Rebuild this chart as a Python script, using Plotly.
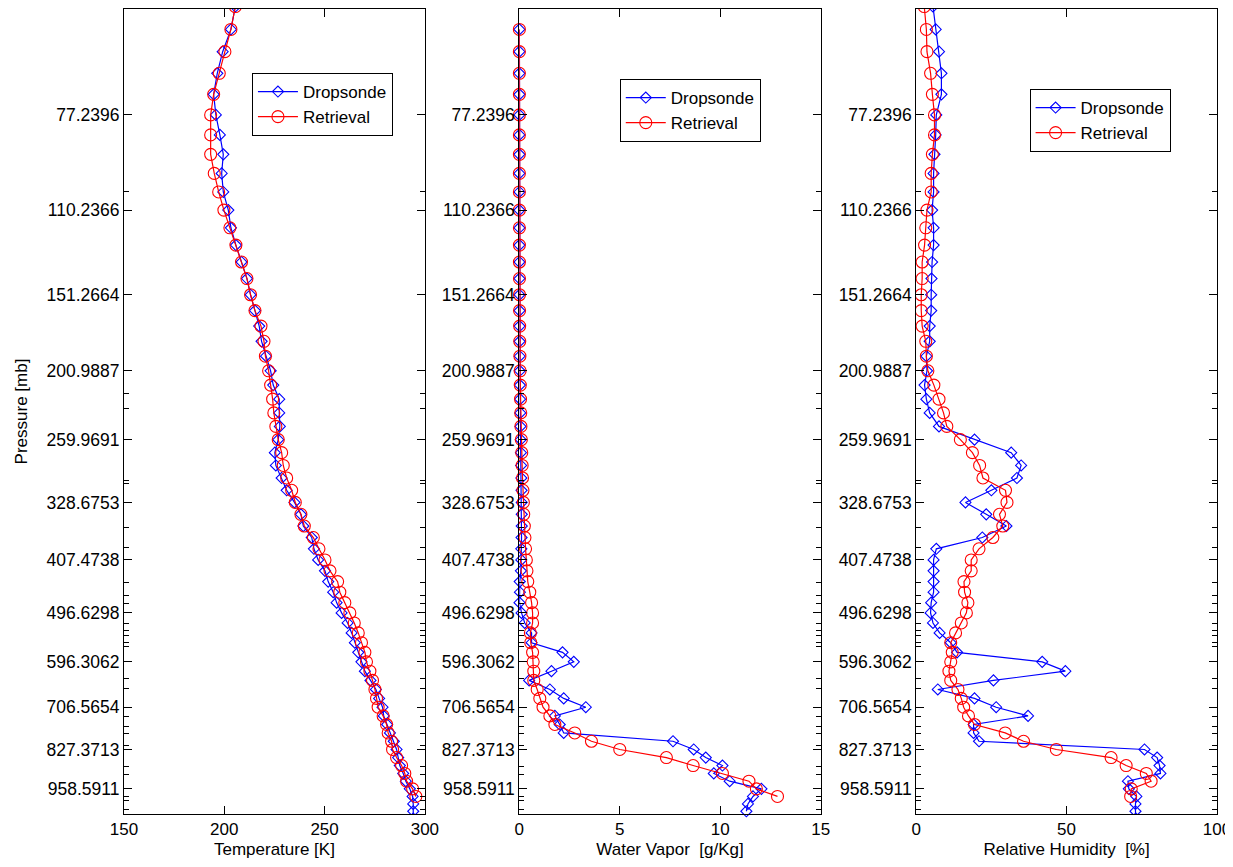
import math
import plotly.graph_objects as go

# AIRS pressure levels (mb), levels 34..98
p_levels = [51.5278, 56.126, 60.9895, 66.1253, 71.5398, 77.2396, 83.231, 89.5204, 96.1138,
            103.017, 110.237, 117.777, 125.646, 133.846, 142.385, 151.266, 160.496, 170.078,
            180.018, 190.32, 200.989, 212.028, 223.441, 235.234, 247.408, 259.969, 272.919,
            286.262, 300.0, 314.137, 328.675, 343.618, 358.966, 374.724, 390.893, 407.474,
            424.47, 441.882, 459.712, 477.961, 496.63, 515.72, 535.232, 555.167, 575.525,
            596.306, 617.511, 639.14, 661.192, 683.667, 706.565, 729.886, 753.628, 777.79,
            802.371, 827.371, 852.788, 878.62, 904.866, 931.524, 958.591, 986.067, 1013.95,
            1042.23, 1070.92]

ytick_vals = [77.2396, 110.2366, 151.2664, 200.9887, 259.9691, 328.6753, 407.4738,
              496.6298, 596.3062, 706.5654, 827.3713, 958.5911]
ytick_text = ["77.2396", "110.2366", "151.2664", "200.9887", "259.9691", "328.6753",
              "407.4738", "496.6298", "596.3062", "706.5654", "827.3713", "958.5911"]
minor_ticks = [103, 219, 231, 303, 306, 361, 389, 444, 465, 480, 517, 530, 540, 554, 564,
               635, 659, 732, 760, 779, 816, 883, 910, 987, 1000, 1037]

# Temperature [K]  (dropsonde: levels 34..98, retrieval: levels 34..95)
t_drop = [205.5, 203.3, 199.2, 196.5, 194.7, 195.8, 197.8, 199.5, 198.7, 199.5, 202.0,
          203.3, 205.8, 208.6, 211.3, 213.1, 215.3, 217.4, 218.6, 220.8, 223.1, 224.4,
          227.4, 227.4, 227.7, 226.9, 225.2, 225.7, 228.6, 231.1, 235.0, 238.2, 239.4,
          243.6, 244.7, 246.8, 250.2, 251.8, 254.3, 256.0, 258.5, 261.5, 263.5, 265.1,
          266.8, 268.4, 270.1, 272.9, 275.6, 277.2, 278.9, 279.5, 281.2, 282.6, 284.5,
          285.9, 286.7, 287.5, 289.2, 290.5, 292.5, 293.9, 294.2, 294.2, 294.2]
t_ret = [205.5, 203.3, 200.3, 197.5, 194.7, 193.2, 193.2, 193.2, 195.0, 197.2, 199.8,
         202.8, 205.8, 208.6, 211.3, 213.1, 215.3, 218.3, 219.8, 220.5, 222.1, 223.1,
         224.1, 224.7, 225.7, 226.9, 228.6, 229.4, 231.1, 233.6, 235.4, 238.2, 239.9,
         244.4, 247.2, 250.2, 252.7, 256.5, 257.6, 260.1, 262.6, 264.8, 266.8, 268.4,
         270.1, 270.9, 272.6, 273.9, 275.1, 275.9, 276.7, 279.2, 280.9, 281.7, 283.4,
         283.9, 285.9, 288.4, 290.0, 290.9, 293.9, 295.5]

# Water vapor [g/Kg]  (dropsonde: levels 35..97, retrieval: levels 35..95)
wv_drop = [0.003, 0.003, 0.003, 0.003, 0.003, 0.003, 0.003, 0.003, 0.003, 0.004, 0.004,
           0.004, 0.005, 0.006, 0.007, 0.009, 0.011, 0.014, 0.018, 0.024, 0.03, 0.04,
           0.05, 0.06, 0.07, 0.08, 0.09, 0.1, 0.11, 0.12, 0.12, 0.12, 0.11, 0.1, 0.1,
           0.08, 0.02, 0.03, 0.01, 0.11, 0.27, 0.61, 0.61, 2.15, 2.71, 1.60, 0.49, 1.52,
           2.21, 3.31, 1.77, 2.01, 2.21, 7.65, 8.68, 9.28, 10.11, 9.68, 10.47, 12.05,
           11.63, 11.38, 11.3]
wv_ret = [0.003, 0.003, 0.003, 0.003, 0.003, 0.003, 0.003, 0.003, 0.003, 0.004, 0.004,
          0.005, 0.006, 0.008, 0.01, 0.013, 0.017, 0.022, 0.03, 0.04, 0.05, 0.06, 0.07,
          0.08, 0.1, 0.12, 0.14, 0.16, 0.18, 0.2, 0.22, 0.25, 0.28, 0.31, 0.35, 0.38,
          0.42, 0.52, 0.61, 0.66, 0.66, 0.55, 0.57, 0.66, 0.69, 0.72, 0.72, 0.89, 1.02,
          1.18, 1.52, 1.77, 2.76, 3.59, 5.0, 7.32, 8.65, 10.11, 11.43, 11.80, 12.85]

# Relative humidity [%]  (dropsonde: levels 34..98, retrieval: levels 34..95)
rh_drop = [5.6, 6.5, 7.6, 8.4, 8.4, 6.7, 6.5, 6.1, 5.8, 5.8, 5.3, 5.8, 5.8, 5.3, 5.1,
           5.0, 5.0, 4.5, 4.5, 3.4, 3.6, 2.8, 3.4, 4.5, 7.6, 19.4, 31.6, 34.9, 33.5,
           25.0, 16.4, 23.3, 30.0, 22.0, 6.7, 5.8, 5.8, 5.8, 5.8, 5.0, 4.8, 5.6, 7.8,
           11.5, 13.6, 41.9, 49.6, 25.7, 7.2, 19.4, 26.6, 37.2, 19.1, 19.1, 20.9, 75.9,
           80.1, 80.9, 81.2, 70.4, 70.7, 73.2, 72.9, 72.9, 73.0]
rh_ret = [2.7, 3.4, 3.6, 4.8, 5.4, 6.1, 6.1, 5.4, 5.0, 5.0, 3.6, 3.2, 2.8, 2.0, 2.0,
          1.7, 1.7, 2.0, 3.2, 3.4, 3.9, 5.9, 7.6, 9.1, 10.2, 14.7, 18.7, 21.1, 22.2,
          29.7, 30.2, 27.7, 28.8, 25.5, 20.9, 18.3, 18.3, 15.9, 16.1, 17.2, 16.7, 15.0,
          13.1, 11.5, 12.0, 11.5, 10.9, 11.5, 13.9, 15.0, 15.8, 17.4, 19.4, 29.6, 35.7,
          46.6, 64.8, 69.8, 76.5, 78.1, 71.5, 71.3]

BLUE = "rgb(0,0,255)"
RED = "rgb(255,0,0)"
FONT = "Liberation Sans, Arial, Helvetica, sans-serif"

fig = go.Figure()

panels = [
    ("x", "y", "legend", t_drop, p_levels[:len(t_drop)], t_ret, p_levels[:len(t_ret)], True),
    ("x2", "y2", "legend2", wv_drop, p_levels[1:1 + len(wv_drop)], wv_ret,
     p_levels[1:1 + len(wv_ret)], False),
    ("x3", "y3", "legend3", rh_drop, p_levels[:len(rh_drop)], rh_ret, p_levels[:len(rh_ret)], True),
]

for xa, ya, lg, dv, dp, rv, rp, clip in panels:
    fig.add_trace(go.Scatter(
        x=dv, y=dp, xaxis=xa, yaxis=ya, legend=lg, name="Dropsonde",
        mode="lines+markers", cliponaxis=clip, hoverinfo="skip",
        line=dict(color=BLUE, width=1.2),
        marker=dict(symbol="diamond-open", size=8.5, color=BLUE, line=dict(width=1.1, color=BLUE)),
    ))
    fig.add_trace(go.Scatter(
        x=rv, y=rp, xaxis=xa, yaxis=ya, legend=lg, name="Retrieval",
        mode="lines+markers", cliponaxis=clip, hoverinfo="skip",
        line=dict(color=RED, width=1.2),
        marker=dict(symbol="circle-open", size=12, color=RED, line=dict(width=1.1, color=RED)),
    ))

# The page body keeps its default 8px margin on every side: the figure is sized so the
# page never overflows the 1233x867 window, and positions are given in screen pixels.
OFF = 8
W, H = 1233 - OFF, 867 - 2 * OFF
ML = 124 - OFF
MR = 15.5
MT = 1
PH = 805
MB = H - MT - PH
PW = W - ML - MR

def dom(a, b):
    return [(a - OFF - ML) / PW, (b - OFF - ML) / PW]

def legpos(px, py):
    return dict(x=(px - OFF - ML) / PW, y=1 - (py - OFF - MT) / PH)

yrange = [math.log10(1053), math.log10(52.0)]

common_y = dict(
    type="log", range=yrange, tickmode="array", tickvals=ytick_vals, ticktext=ytick_text,
    ticks="inside", ticklen=8, tickwidth=1, tickcolor="black",
    showline=True, linecolor="black", linewidth=1, mirror="allticks",
    showgrid=False, zeroline=False, automargin=False,
    tickfont=dict(family=FONT, size=17.5, color="black"),
    minor=dict(tickmode="array", tickvals=minor_ticks, ticks="inside", ticklen=5,
               tickwidth=1, tickcolor="black", showgrid=False),
    ticklabelstandoff=0,
)
common_x = dict(
    ticks="inside", ticklen=8, tickwidth=1, tickcolor="black",
    showline=True, linecolor="black", linewidth=1, mirror="allticks",
    showgrid=False, zeroline=False, automargin=False,
    ticklabeloverflow="allow",
    tickfont=dict(family=FONT, size=17, color="black"),
    title_font=dict(family=FONT, size=17, color="black"),
    title_standoff=6,
)

legend_common = dict(
    bgcolor="white", bordercolor="black", borderwidth=1,
    font=dict(family=FONT, size=17, color="black"),
    xanchor="left", yanchor="top", itemwidth=40, tracegroupgap=0,
)

fig.update_layout(
    width=W, height=H, autosize=False,
    margin=dict(l=ML, r=MR, t=MT, b=MB, pad=0, autoexpand=False),
    paper_bgcolor="white", plot_bgcolor="white",
    font=dict(family=FONT, size=17, color="black"),
    hovermode=False,
    xaxis=dict(domain=dom(124, 425), range=[150, 300], tickvals=[150, 200, 250, 300],
               title_text="Temperature [K]", anchor="y", **common_x),
    xaxis2=dict(domain=dom(519.5, 821), range=[0, 15], tickvals=[0, 5, 10, 15],
                title_text="Water Vapor  [g/Kg]", anchor="y2", **common_x),
    xaxis3=dict(domain=dom(916.5, 1217.5), range=[0, 100], tickvals=[0, 50, 100],
                title_text="Relative Humidity  [%]", anchor="y3", **common_x),
    yaxis=dict(anchor="x", title_text="Pressure [mb]", title_standoff=14,
               title_font=dict(family=FONT, size=17, color="black"), **common_y),
    yaxis2=dict(anchor="x2", **common_y),
    yaxis3=dict(anchor="x3", **common_y),
    legend=dict(**legend_common, **legpos(252, 73)),
    legend2=dict(**legend_common, **legpos(620, 79)),
    legend3=dict(**legend_common, **legpos(1030, 89)),
    showlegend=True,
)

fig.write_html("out.html", config={"displayModeBar": False, "responsive": False})
